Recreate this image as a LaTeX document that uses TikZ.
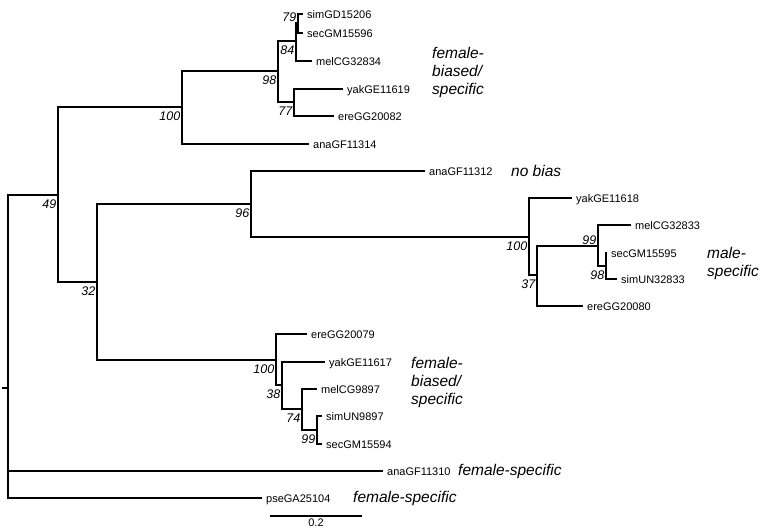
\documentclass[tikz,border=0pt]{standalone}
\usepackage{fontspec}
\setmainfont{Liberation Sans}
\usetikzlibrary{positioning}

\begin{document}
\begin{tikzpicture}[x=1pt, y=-1pt,
    branch/.style={line width=1.1pt},
    taxon/.style={anchor=west, inner xsep=4pt, inner ysep=1pt, text height=8pt, text depth=0pt, font=\fontsize{11}{13}\selectfont},
    boot/.style={anchor=north east, inner sep=1.5pt, yshift=-3pt, font=\fontsize{12.5}{14}\selectfont\itshape},
    bootup/.style={anchor=south east, inner sep=1.5pt, font=\fontsize{12.5}{14}\selectfont\itshape},
    bias/.style={anchor=west, inner sep=2pt, align=left, font=\fontsize{15.5}{18}\selectfont\itshape}]
    \useasboundingbox (0,0) rectangle (761,528);

    % internal nodes
    \coordinate (rootstub) at (2,388);
    \coordinate (root) at (8,388);
    \coordinate (n49) at (58,195);
    \coordinate (n100a) at (182,107);
    \coordinate (n98a) at (278,71);
    \coordinate (n84) at (296,41);
    \coordinate (n79) at (298,23);
    \coordinate (n77) at (294,102);
    \coordinate (n32) at (97,282);
    \coordinate (n96) at (251,204);
    \coordinate (n100b) at (529,237);
    \coordinate (n37) at (537,275);
    \coordinate (n99b) at (598,246);
    \coordinate (n98b) at (606,266);
    \coordinate (n100c) at (276,360);
    \coordinate (n38) at (282,385);
    \coordinate (n74) at (302,409);
    \coordinate (n99c) at (317,430);

    % taxa
    \node[taxon] (simGD15206) at (303,14) {simGD15206};
    \node[taxon] (secGM15596) at (303,33) {secGM15596};
    \node[taxon] (melCG32834) at (312,61) {melCG32834};
    \node[taxon] (yakGE11619) at (343,89) {yakGE11619};
    \node[taxon] (ereGG20082) at (334,116) {ereGG20082};
    \node[taxon] (anaGF11314) at (309,144) {anaGF11314};
    \node[taxon] (anaGF11312) at (425,171) {anaGF11312};
    \node[taxon] (yakGE11618) at (572,198) {yakGE11618};
    \node[taxon] (melCG32833) at (631,225) {melCG32833};
    \node[taxon] (secGM15595) at (607,253) {secGM15595};
    \node[taxon] (simUN32833) at (617,279) {simUN32833};
    \node[taxon] (ereGG20080) at (583,306) {ereGG20080};
    \node[taxon] (ereGG20079) at (307,334) {ereGG20079};
    \node[taxon] (yakGE11617) at (325,362) {yakGE11617};
    \node[taxon] (melCG9897) at (317,389) {melCG9897};
    \node[taxon] (simUN9897) at (322,416) {simUN9897};
    \node[taxon] (secGM15594) at (322,444) {secGM15594};
    \node[taxon] (anaGF11310) at (383,471) {anaGF11310};
    \node[taxon] (pseGA25104) at (262,498) {pseGA25104};

    % branches
    \draw[branch] (rootstub) -- (root);
    \draw[branch] (root) |- (n49) (root) |- (anaGF11310.west) (root) |- (pseGA25104.west);
    \draw[branch] (n49) |- (n100a) (n49) |- (n32);
    \draw[branch] (n100a) |- (n98a) (n100a) |- (anaGF11314.west);
    \draw[branch] (n98a) |- (n84) (n98a) |- (n77);
    \draw[branch] (n84) |- (n79) (n84) |- (melCG32834.west);
    \draw[branch] (n79) |- (simGD15206.west) (n79) |- (secGM15596.west);
    \draw[branch] (n77) |- (yakGE11619.west) (n77) |- (ereGG20082.west);
    \draw[branch] (n32) |- (n96) (n32) |- (n100c);
    \draw[branch] (n96) |- (anaGF11312.west) (n96) |- (n100b);
    \draw[branch] (n100b) |- (yakGE11618.west) (n100b) |- (n37);
    \draw[branch] (n37) |- (n99b) (n37) |- (ereGG20080.west);
    \draw[branch] (n99b) |- (melCG32833.west) (n99b) |- (n98b);
    \draw[branch] (n98b) |- (secGM15595.west) (n98b) |- (simUN32833.west);
    \draw[branch] (n100c) |- (ereGG20079.west) (n100c) |- (n38);
    \draw[branch] (n38) |- (yakGE11617.west) (n38) |- (n74);
    \draw[branch] (n74) |- (melCG9897.west) (n74) |- (n99c);
    \draw[branch] (n99c) |- (simUN9897.west) (n99c) |- (secGM15594.west);

    % bootstrap values
    \node[bootup] (b79) at (n79) {79};
    \node[boot] (b84) at (n84) {84};
    \node[boot] (b98a) at (n98a) {98};
    \node[boot] (b77) at (n77) {77};
    \node[boot] (b100a) at (n100a) {100};
    \node[boot] (b49) at (n49) {49};
    \node[boot] (b32) at (n32) {32};
    \node[boot] (b96) at (n96) {96};
    \node[boot] (b100b) at (n100b) {100};
    \node[boot] (b37) at (n37) {37};
    \node[bootup] (b99b) at (n99b) {99};
    \node[boot] (b98b) at (n98b) {98};
    \node[boot] (b100c) at (n100c) {100};
    \node[boot] (b38) at (n38) {38};
    \node[boot] (b74) at (n74) {74};
    \node[boot] (b99c) at (n99c) {99};

    % expression
    \node[bias] (biasTop) at (430,72) {female-\\biased/\\specific};
    \node[bias] (biasNone) at (509,171) {no bias};
    \node[bias] (biasMale) at (705,263) {male-\\specific};
    \node[bias] (biasLow) at (409,382) {female-\\biased/\\specific};
    \node[bias] (biasAna) at (456,471) {female-specific};
    \node[bias] (biasPse) at (351,498) {female-specific};

    % scale bar
    \coordinate (bar0) at (270,516);
    \coordinate (bar1) at (362,516);
    \draw[branch] (bar0) -- (bar1);
    \node[inner sep=1pt, font=\fontsize{11}{13}\selectfont] (barlabel) at (316,523) {0.2};
\end{tikzpicture}
\end{document}
